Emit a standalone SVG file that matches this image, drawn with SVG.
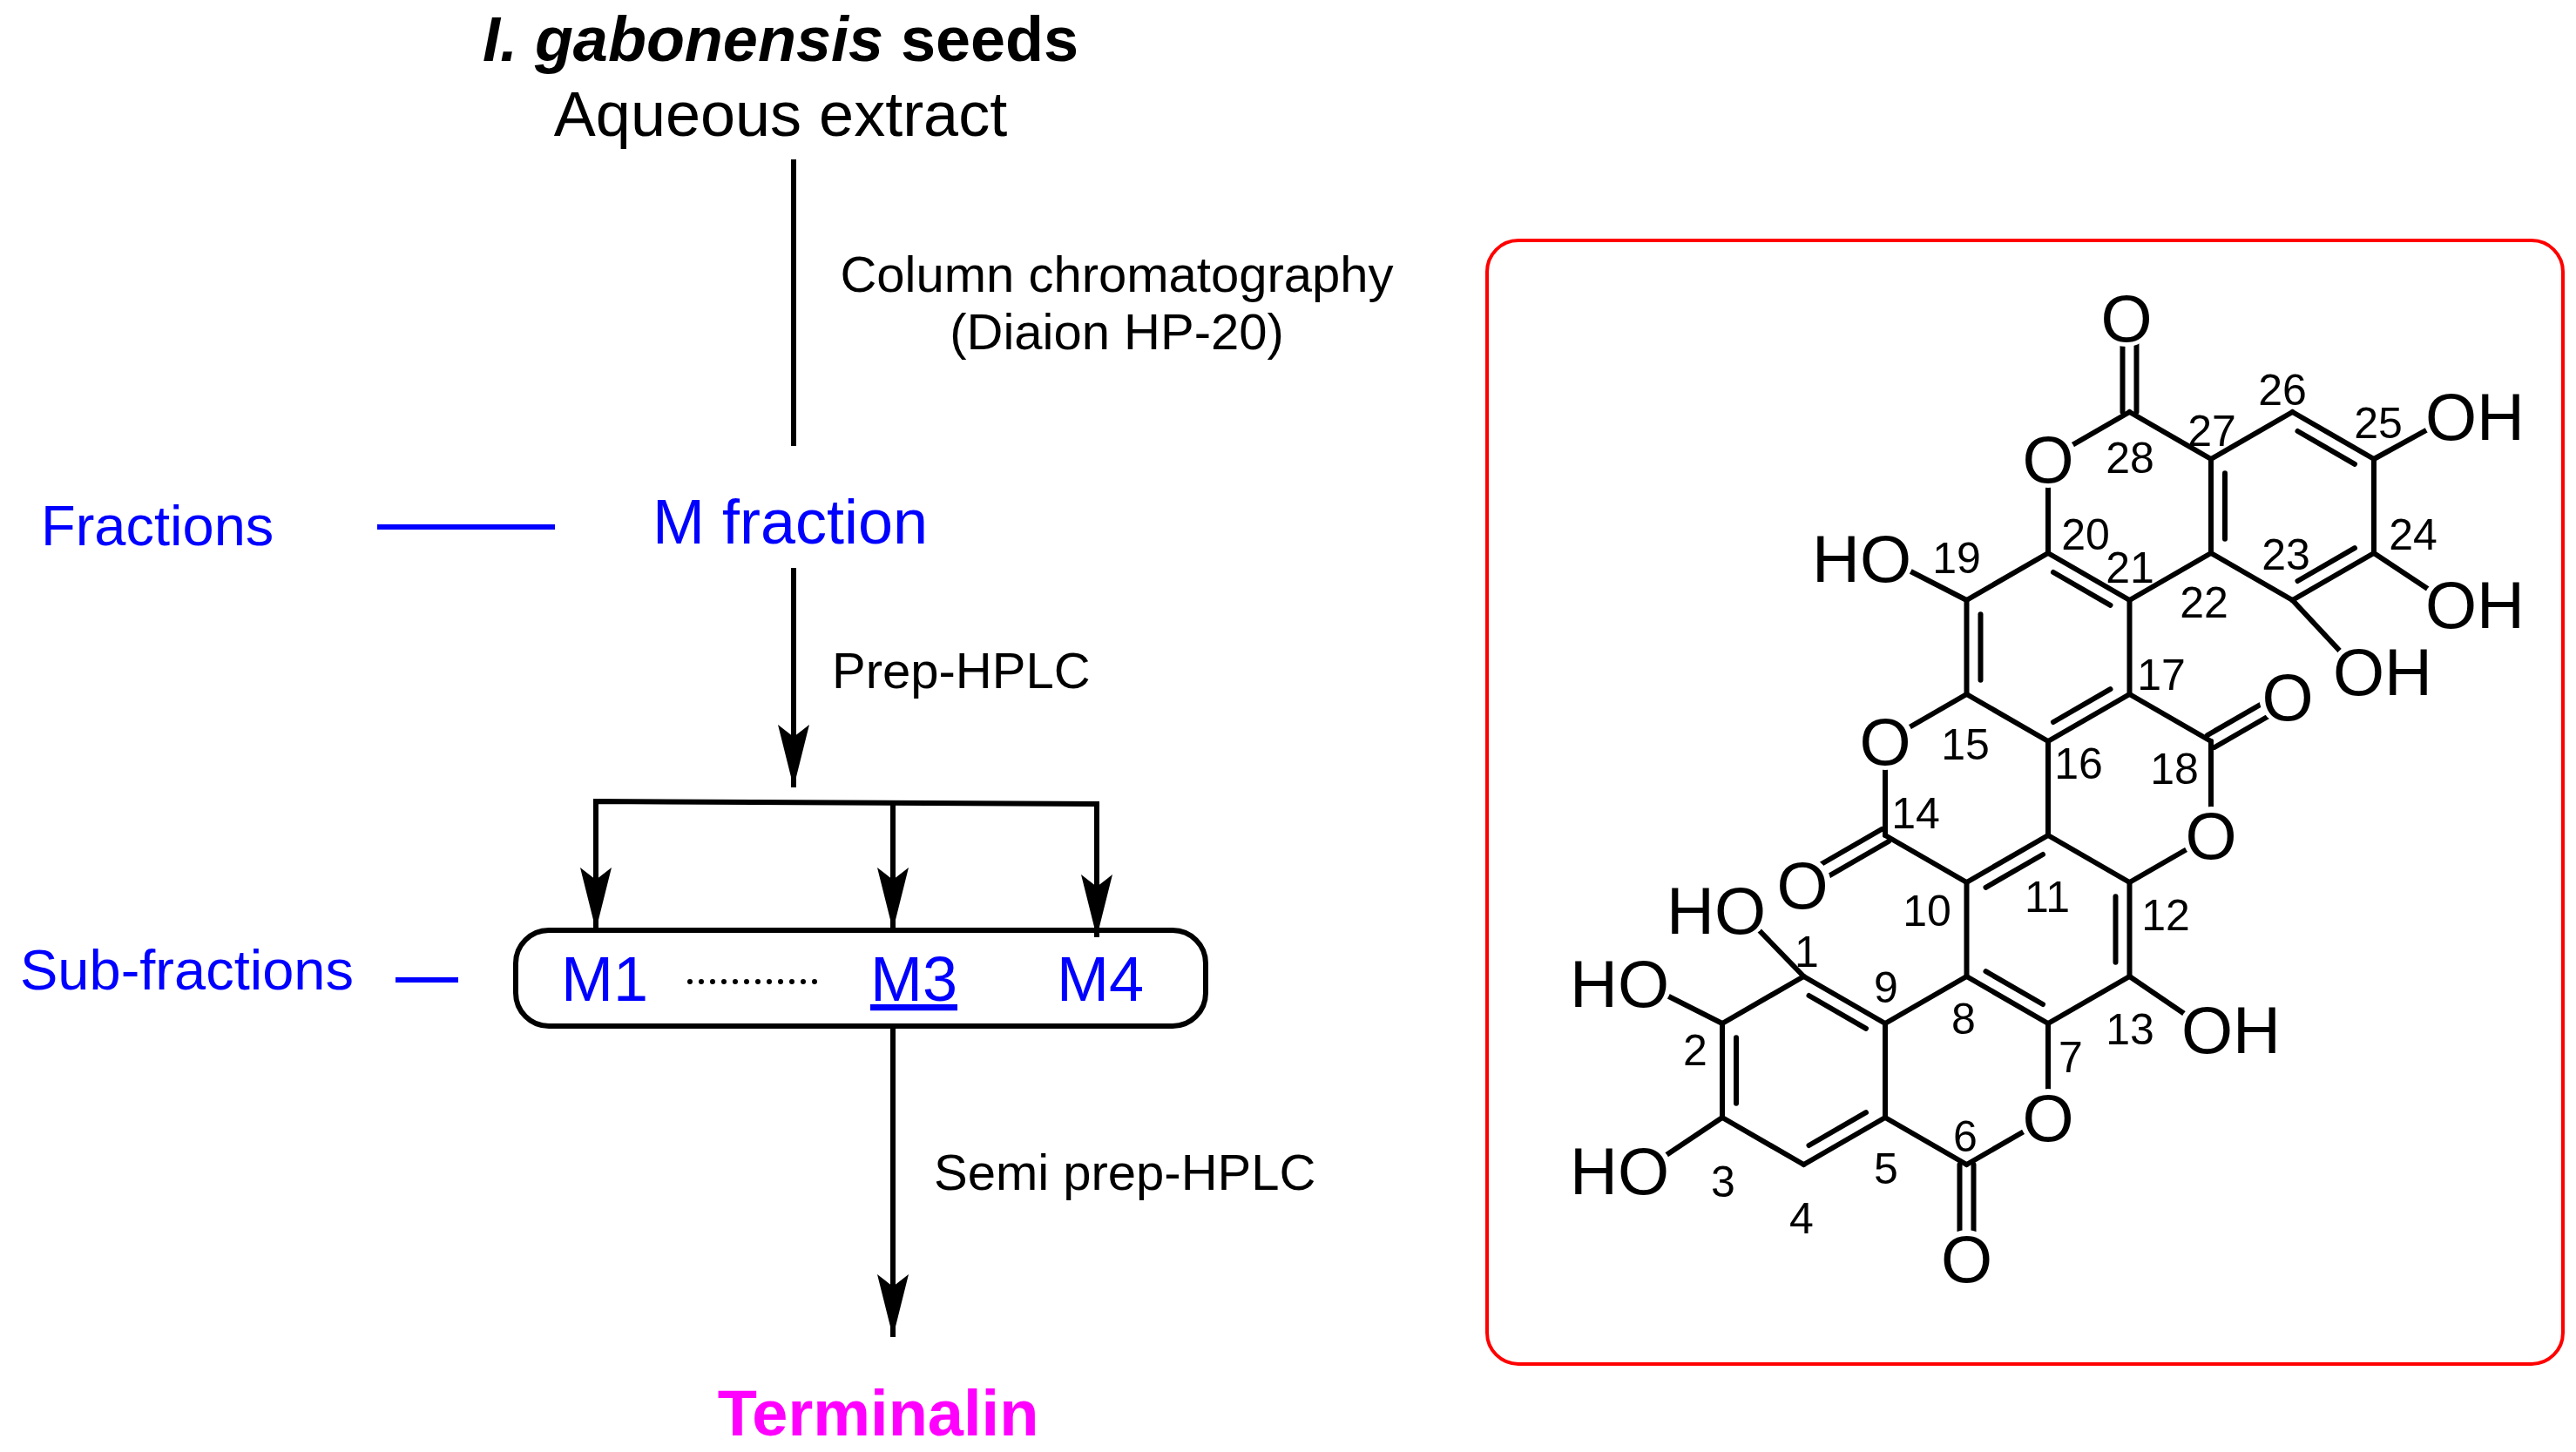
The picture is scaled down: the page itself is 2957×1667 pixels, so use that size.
<svg xmlns="http://www.w3.org/2000/svg" width="2957" height="1667" viewBox="0 0 2957 1667">
<defs>
<marker id="ah" markerUnits="userSpaceOnUse" viewBox="-72 -20 74 40" markerWidth="74" markerHeight="40" refX="0" refY="0" orient="auto">
<path d="M0,0 L-72,-18 L-58,0 L-72,18 Z" fill="#000"/>
</marker>
<style>
text{font-family:"Liberation Sans",Arial,sans-serif}
.ln{stroke:#000;stroke-width:6;fill:none}
.bl{stroke:#0000ff;stroke-width:6}
.lbl{font-size:58px;fill:#000}
.blue{font-size:65px;fill:#0000ff}
.bd{stroke:#000;stroke-width:6;stroke-linecap:round}
.at{font-size:76px;fill:#000}
.num{font-size:50px;fill:#000;text-anchor:middle}
.ko{fill:#fff}
</style>
</defs>
<rect width="2957" height="1667" fill="#fff"/>

<g id="connectors">
<line class="ln" x1="911" y1="183" x2="911" y2="512"/>
<line class="bl" x1="433" y1="605" x2="637" y2="605"/>
<line class="ln" x1="911" y1="652" x2="911" y2="904" marker-end="url(#ah)"/>
<polyline class="ln" points="684,1068 684,920 1259,923 1259,1076"/>
<line class="ln" x1="684" y1="1000" x2="684" y2="1068" marker-end="url(#ah)"/>
<line class="ln" x1="1025" y1="920" x2="1025" y2="1068" marker-end="url(#ah)"/>
<line class="ln" x1="1259" y1="1000" x2="1259" y2="1076" marker-end="url(#ah)"/>
<line class="bl" x1="454" y1="1125" x2="526" y2="1125"/>
<line class="ln" x1="1025" y1="1178" x2="1025" y2="1535" marker-end="url(#ah)"/>
</g>

<g id="start">
<text x="896" y="70" text-anchor="middle" font-size="72" font-weight="bold"><tspan font-style="italic">I. gabonensis</tspan> seeds</text>
<text x="896" y="156" text-anchor="middle" font-size="72">Aqueous extract</text>
</g>
<g id="step1">
<text x="1282" y="335" text-anchor="middle" class="lbl">Column chromatography</text>
<text x="1282" y="401" text-anchor="middle" class="lbl">(Diaion HP-20)</text>
</g>
<g id="fractions">
<text x="47" y="626" class="blue">Fractions</text>
</g>
<g id="mfraction">
<text x="907" y="624" text-anchor="middle" font-size="72" fill="#0000ff">M fraction</text>
</g>
<g id="step2">
<text x="955" y="790" class="lbl">Prep-HPLC</text>
</g>
<g id="subfractions">
<text x="23" y="1136" class="blue">Sub-fractions</text>
</g>
<g id="mbox">
<rect x="592" y="1068" width="792" height="110" rx="38" class="ln"/>
<text x="694" y="1149" text-anchor="middle" font-size="72" fill="#0000ff">M1</text>
<line x1="792" y1="1127" x2="936" y2="1127" stroke="#000" stroke-width="6" stroke-dasharray="0 13" stroke-linecap="round"/>
<text x="1049" y="1149" text-anchor="middle" font-size="72" fill="#0000ff" text-decoration="underline">M3</text>
<text x="1263" y="1149" text-anchor="middle" font-size="72" fill="#0000ff">M4</text>
</g>
<g id="step3">
<text x="1072" y="1366" class="lbl">Semi prep-HPLC</text>
</g>
<g id="terminalin">
<text x="1008" y="1648" text-anchor="middle" font-size="74" font-weight="bold" fill="#ff00ff">Terminalin</text>
</g>

<g id="structure">
<rect x="1707" y="276" width="1235" height="1290" rx="36" fill="none" stroke="#ff0000" stroke-width="4"/>
<g class="bd">
<line x1="2070.5" y1="1121" x2="1977" y2="1175"/>
<line x1="1977" y1="1175" x2="1977" y2="1283"/>
<line x1="1977" y1="1283" x2="2070.5" y2="1337"/>
<line x1="2070.5" y1="1337" x2="2164" y2="1283"/>
<line x1="2164" y1="1283" x2="2164" y2="1175"/>
<line x1="2164" y1="1175" x2="2070.5" y2="1121"/>
<line x1="2076.5" y1="1143" x2="2142" y2="1180.8"/>
<line x1="1993" y1="1191.2" x2="1993" y2="1266.8"/>
<line x1="2076.5" y1="1315" x2="2142" y2="1277.2"/>
<line x1="2257.5" y1="1121" x2="2257.5" y2="1013"/>
<line x1="2257.5" y1="1013" x2="2351" y2="959"/>
<line x1="2351" y1="959" x2="2444.5" y2="1013"/>
<line x1="2444.5" y1="1013" x2="2444.5" y2="1121"/>
<line x1="2444.5" y1="1121" x2="2351" y2="1175"/>
<line x1="2351" y1="1175" x2="2257.5" y2="1121"/>
<line x1="2279.5" y1="1018.8" x2="2345" y2="981"/>
<line x1="2428.5" y1="1029.2" x2="2428.5" y2="1104.8"/>
<line x1="2279.5" y1="1115.2" x2="2345" y2="1153"/>
<line x1="2164" y1="1175" x2="2257.5" y2="1121"/>
<line x1="2164" y1="1283" x2="2257.5" y2="1337"/>
<line x1="2257.5" y1="1337" x2="2351" y2="1283"/>
<line x1="2351" y1="1283" x2="2351" y2="1175"/>
<line x1="2249.5" y1="1337" x2="2249.5" y2="1445"/>
<line x1="2265.5" y1="1337" x2="2265.5" y2="1445"/>
<line x1="2257.5" y1="1013" x2="2164" y2="959"/>
<line x1="2164" y1="959" x2="2164" y2="851"/>
<line x1="2164" y1="851" x2="2257.5" y2="797"/>
<line x1="2351" y1="851" x2="2351" y2="959"/>
<line x1="2168" y1="966" x2="2074.5" y2="1020"/>
<line x1="2160" y1="952" x2="2066.5" y2="1006"/>
<line x1="2257.5" y1="797" x2="2351" y2="851"/>
<line x1="2351" y1="851" x2="2444.5" y2="797"/>
<line x1="2444.5" y1="797" x2="2444.5" y2="689"/>
<line x1="2444.5" y1="689" x2="2351" y2="635"/>
<line x1="2351" y1="635" x2="2257.5" y2="689"/>
<line x1="2257.5" y1="689" x2="2257.5" y2="797"/>
<line x1="2273.5" y1="705.2" x2="2273.5" y2="780.8"/>
<line x1="2357" y1="829" x2="2422.5" y2="791.2"/>
<line x1="2357" y1="657" x2="2422.5" y2="694.8"/>
<line x1="2444.5" y1="797" x2="2538" y2="851"/>
<line x1="2538" y1="851" x2="2538" y2="959"/>
<line x1="2538" y1="959" x2="2444.5" y2="1013"/>
<line x1="2542" y1="858" x2="2635.5" y2="804"/>
<line x1="2534" y1="844" x2="2627.5" y2="790"/>
<line x1="2351" y1="635" x2="2351" y2="527"/>
<line x1="2351" y1="527" x2="2444.5" y2="473"/>
<line x1="2444.5" y1="473" x2="2538" y2="527"/>
<line x1="2538" y1="635" x2="2444.5" y2="689"/>
<line x1="2436.5" y1="473" x2="2436.5" y2="365"/>
<line x1="2452.5" y1="473" x2="2452.5" y2="365"/>
<line x1="2538" y1="527" x2="2538" y2="635"/>
<line x1="2538" y1="527" x2="2631.5" y2="473"/>
<line x1="2631.5" y1="473" x2="2725" y2="527"/>
<line x1="2725" y1="527" x2="2725" y2="635"/>
<line x1="2725" y1="635" x2="2631.5" y2="689"/>
<line x1="2631.5" y1="689" x2="2538" y2="635"/>
<line x1="2554" y1="543.2" x2="2554" y2="618.8"/>
<line x1="2637.5" y1="495" x2="2703" y2="532.8"/>
<line x1="2637.5" y1="667" x2="2703" y2="629.2"/>
<line x1="2070.5" y1="1121" x2="1997" y2="1045"/>
<line x1="1977" y1="1175" x2="1886" y2="1129"/>
<line x1="1977" y1="1283" x2="1886" y2="1344"/>
<line x1="2444.5" y1="1121" x2="2534" y2="1182"/>
<line x1="2257.5" y1="689" x2="2164" y2="641"/>
<line x1="2725" y1="527" x2="2814" y2="478"/>
<line x1="2725" y1="635" x2="2814" y2="694"/>
<line x1="2631.5" y1="689" x2="2708" y2="771"/>
</g>
<g class="ko">
<circle cx="2351" cy="1283" r="33"/>
<circle cx="2257.5" cy="1445" r="33"/>
<circle cx="2069" cy="1016" r="33"/>
<circle cx="2164" cy="851" r="33"/>
<circle cx="2538" cy="959" r="33"/>
<circle cx="2626" cy="800" r="33"/>
<circle cx="2351" cy="527" r="33"/>
<circle cx="2441" cy="365" r="33"/>
<circle cx="1997" cy="1045" r="33"/>
<circle cx="1886" cy="1129" r="33"/>
<circle cx="1886" cy="1344" r="33"/>
<circle cx="2534" cy="1182" r="33"/>
<circle cx="2164" cy="641" r="33"/>
<circle cx="2814" cy="478" r="33"/>
<circle cx="2814" cy="694" r="33"/>
<circle cx="2708" cy="771" r="33"/>
</g>
<text class="at" x="2351" y="1310" text-anchor="middle">O</text>
<text class="at" x="2257.5" y="1472" text-anchor="middle">O</text>
<text class="at" x="2069" y="1043" text-anchor="middle">O</text>
<text class="at" x="2164" y="878" text-anchor="middle">O</text>
<text class="at" x="2538" y="986" text-anchor="middle">O</text>
<text class="at" x="2626" y="827" text-anchor="middle">O</text>
<text class="at" x="2351" y="554" text-anchor="middle">O</text>
<text class="at" x="2441" y="392" text-anchor="middle">O</text>
<text class="at" x="2027" y="1072" text-anchor="end">HO</text>
<text class="at" x="1916" y="1156" text-anchor="end">HO</text>
<text class="at" x="1916" y="1371" text-anchor="end">HO</text>
<text class="at" x="2504" y="1209">OH</text>
<text class="at" x="2194" y="668" text-anchor="end">HO</text>
<text class="at" x="2784" y="505">OH</text>
<text class="at" x="2784" y="721">OH</text>
<text class="at" x="2678" y="798">OH</text>
<text class="num" x="2074" y="1110">1</text>
<text class="num" x="1946" y="1223">2</text>
<text class="num" x="1978" y="1374">3</text>
<text class="num" x="2068" y="1416">4</text>
<text class="num" x="2165" y="1359">5</text>
<text class="num" x="2256" y="1322">6</text>
<text class="num" x="2377" y="1231">7</text>
<text class="num" x="2254" y="1187">8</text>
<text class="num" x="2165" y="1151">9</text>
<text class="num" x="2212" y="1063">10</text>
<text class="num" x="2350" y="1047">11</text>
<text class="num" x="2486" y="1068">12</text>
<text class="num" x="2445" y="1199">13</text>
<text class="num" x="2199" y="951">14</text>
<text class="num" x="2256" y="872">15</text>
<text class="num" x="2386" y="894">16</text>
<text class="num" x="2481" y="792">17</text>
<text class="num" x="2496" y="900">18</text>
<text class="num" x="2246" y="658">19</text>
<text class="num" x="2394" y="631">20</text>
<text class="num" x="2445" y="669">21</text>
<text class="num" x="2530" y="709">22</text>
<text class="num" x="2624" y="654">23</text>
<text class="num" x="2770" y="631">24</text>
<text class="num" x="2730" y="503">25</text>
<text class="num" x="2620" y="465">26</text>
<text class="num" x="2539" y="512">27</text>
<text class="num" x="2445" y="543">28</text>
</g>
</svg>
